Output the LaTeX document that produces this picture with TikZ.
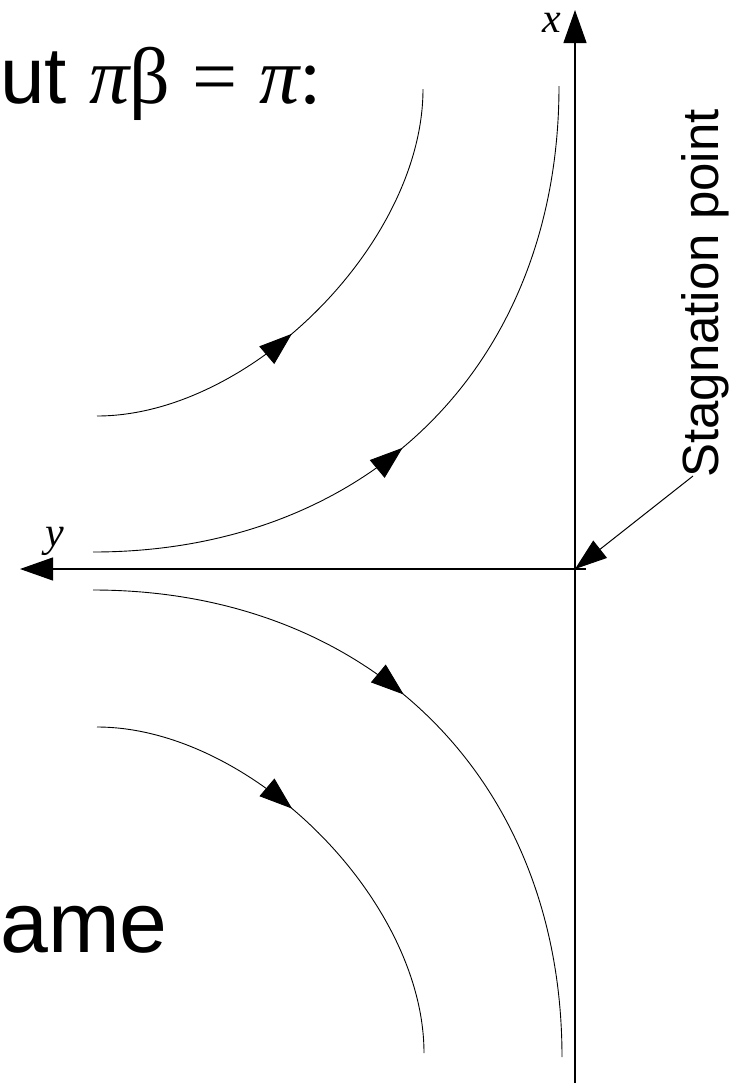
\documentclass[tikz,border=0pt]{standalone}
\usepackage{fontspec}
\setmainfont{Liberation Sans}
\newfontfamily\greekserif{Liberation Serif}
\usetikzlibrary{arrows.meta,decorations.markings}
\tikzset{
  axis/.style={line width=1.2pt,-{Triangle[length=33pt,width=23pt]}},
  stream/.style={line width=0.9pt},
  midtip/.style={postaction={decorate,decoration={markings,
      mark=at position #1 with {\arrow{Triangle[length=33pt,width=23pt]}}}}},
}

\begin{document}
\begin{tikzpicture}[x=1pt,y=-1pt]
\useasboundingbox (0,0) rectangle (741,1085);
% axes, origin at the stagnation point
\coordinate (O) at (575,569);
\coordinate (xtip) at (575,10);
\coordinate (xend) at (575,1083);
\coordinate (ytip) at (20,569);
\coordinate (yend) at (586,569);
\draw[axis] (xend) -- (xtip);
\draw[axis] (yend) -- (ytip);
\node[anchor=base,inner sep=0,font=\greekserif\itshape\fontsize{42}{50}\selectfont] (xlab) at (552,32) {x};
\node[anchor=base,inner sep=0,font=\greekserif\itshape\fontsize{42}{50}\selectfont] (ylab) at (55,546) {y};
% streamlines above the y axis
\draw[stream,midtip=0.43] (97,416) .. controls (250,416) and (423,243) .. (423,89);
\draw[stream,midtip=0.45] (93,552) .. controls (370,552) and (559,363) .. (559,86);
% streamlines below the y axis
\draw[stream,midtip=0.45] (93,590) .. controls (370,590) and (562,780) .. (562,1057);
\draw[stream,midtip=0.43] (97,727) .. controls (251,727) and (424,900) .. (424,1053);
% label and pointer
\node[rotate=90,anchor=base west,inner sep=0,font=\fontsize{51}{60}\selectfont] (stag) at (718,478) {Stagnation point};
\coordinate (stagfoot) at (693,476);
\draw[line width=1pt,-{Triangle[length=32pt,width=22pt]}] (stagfoot) -- (O);
% slide text
\node[anchor=base west,inner sep=0,font=\fontsize{80}{96}\selectfont] (title) at (0,103) {ut {\greekserif\itshape π}{\greekserif β} {\greekserif =} {\greekserif\itshape π}{\greekserif :}};
\node[anchor=base west,inner sep=0,font=\fontsize{86}{104}\selectfont] (same) at (0,952) {ame};
\end{tikzpicture}
\end{document}
